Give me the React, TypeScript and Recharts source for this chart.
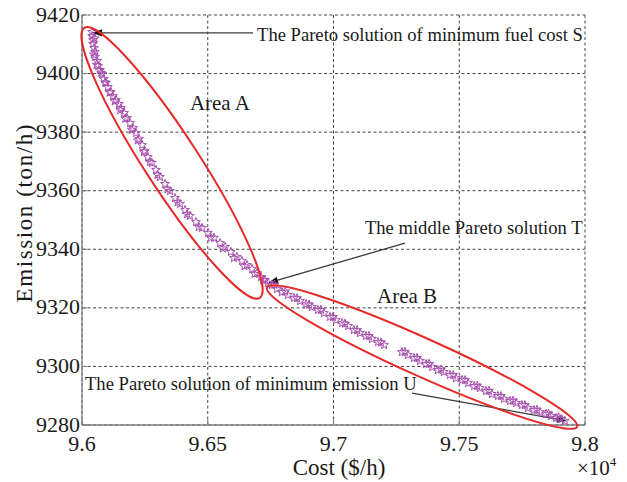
import React from 'react';
import {
  ScatterChart,
  Scatter,
  XAxis,
  YAxis,
  CartesianGrid,
  ReferenceLine,
  ReferenceDot,
} from 'recharts';

// Pareto front: cost ($/h) and emission (ton/h)
const costs = [
  96040, 96040, 96044, 96044, 96048, 96052, 96052, 96060, 96064, 96072,
  96080, 96087, 96095, 96103, 96115, 96123, 96135, 96147, 96155, 96167,
  96179, 96191, 96203, 96215, 96227, 96239, 96250, 96262, 96278, 96294,
  96310, 96330, 96350, 96370, 96390, 96410, 96429, 96453, 96477, 96501,
  96525, 96549, 96569, 96592, 96616, 96636, 96656, 96676, 96696, 96712,
  96728, 96740,
  96755, 96775, 96795, 96819, 96843, 96867, 96891, 96914, 96938, 96962,
  96986, 97010, 97034, 97058, 97081, 97105, 97129, 97153, 97177, 97201,
  97272, 97296, 97320, 97344, 97368, 97392, 97415, 97439, 97463, 97487,
  97511, 97535, 97559, 97582, 97606, 97630, 97654, 97678, 97702, 97726,
  97749, 97773, 97797, 97821, 97845, 97865, 97885, 97904, 97920,
];
const emissions = [
  9414.2, 9412.8, 9411.5, 9410.1, 9408.7, 9407.4, 9405.7, 9404.3, 9402.6, 9401.2,
  9399.9, 9398.1, 9396.8, 9395.4, 9393.7, 9392.3, 9391.0, 9389.6, 9388.2, 9386.5,
  9384.8, 9383.1, 9381.4, 9379.7, 9377.7, 9375.6, 9373.6, 9371.5, 9369.5, 9367.1,
  9364.7, 9362.3, 9359.9, 9357.5, 9355.5, 9353.4, 9351.4, 9349.3, 9347.3, 9345.6,
  9343.9, 9342.1, 9340.8, 9339.1, 9337.4, 9336.0, 9334.6, 9333.3, 9331.9, 9330.5,
  9329.5, 9328.5,
  9327.8, 9326.4, 9325.4, 9324.4, 9323.4, 9322.3, 9321.3, 9320.3, 9319.3, 9318.2,
  9316.9, 9315.8, 9314.8, 9313.8, 9312.4, 9311.4, 9310.4, 9309.4, 9308.3, 9307.3,
  9304.9, 9303.9, 9302.9, 9301.9, 9300.8, 9299.8, 9298.8, 9298.1, 9297.1, 9296.0,
  9295.4, 9294.3, 9293.3, 9292.6, 9291.6, 9290.6, 9289.9, 9288.9, 9288.2, 9287.5,
  9286.8, 9285.8, 9285.1, 9284.4, 9283.8, 9283.1, 9282.4, 9282.0, 9281.4,
];
// extra solutions that thicken the band
const costs2 = [
  96050, 96047, 96058, 96076, 96092, 96110, 96130, 96152, 96172, 96198,
  96222, 96246, 96270, 96300, 96340, 96380, 96418, 96465, 96512, 96560,
  96604, 96646, 96686, 96720,
  96765, 96808, 96855, 96903, 96950, 96998, 97046, 97094, 97141, 97189,
  97284, 97332, 97380, 97428, 97476, 97523, 97571, 97618, 97666, 97714,
  97761, 97809, 97855, 97895,
];
const emissions2 = [
  9412.0, 9406.5, 9403.0, 9400.3, 9397.0, 9393.5, 9390.5, 9387.5, 9384.6, 9380.8,
  9377.2, 9373.2, 9369.8, 9365.4, 9360.5, 9356.1, 9352.0, 9347.6, 9344.0, 9340.3,
  9337.0, 9334.2, 9331.6, 9329.4,
  9327.9, 9325.6, 9323.3, 9321.1, 9319.3, 9316.9, 9314.6, 9312.4, 9310.4, 9308.2,
  9305.0, 9302.9, 9300.9, 9299.0, 9297.1, 9295.3, 9293.4, 9291.7, 9289.9, 9288.3,
  9286.8, 9285.2, 9283.9, 9282.6,
];

const xTicks = [96000, 96500, 97000, 97500, 98000];
const yTicks = [9280, 9300, 9320, 9340, 9360, 9380, 9400, 9420];

// annotations, in data coordinates
const arrows = [
  { x1: 96680, y1: 9413.9, x2: 96040, y2: 9413.9 },
  { x1: 97284, y1: 9342.1, x2: 96740, y2: 9328.5 },
  { x1: 97312, y1: 9290.9, x2: 97928, y2: 9281.4 },
];
const notes = [
  { x: 96696, y: 9411.1, text: 'The Pareto solution of minimum fuel cost S', size: 18.6 },
  { x: 97125, y: 9345.2, text: 'The middle Pareto solution T', size: 18.6 },
  { x: 96012, y: 9291.9, text: 'The Pareto solution of minimum emission U', size: 18.6 },
  { x: 96429, y: 9387.6, text: 'Area A', size: 21 },
  { x: 97173, y: 9321.7, text: 'Area B', size: 21 },
];
const areas = [
  { x: 96358, y: 9369.5, rx: 161, ry: 27, angle: 57 },
  { x: 97352, y: 9303.2, rx: 170, ry: 19, angle: 24.2 },
];

const FONT = "'Liberation Serif', 'Times New Roman', Times, serif";
const AXIS = '#808080';

const data = [
  ...costs.map((c, i) => ({ cost: c, emission: emissions[i] })),
  ...costs2.map((c, i) => ({ cost: c, emission: emissions2[i] })),
];

const Star = (props: any) => {
  const { cx, cy } = props;
  if (cx == null || cy == null) return null;
  const pts: string[] = [];
  for (let k = 0; k < 10; k++) {
    const r = k % 2 === 0 ? 4.6 : 1.9;
    const a = -Math.PI / 2 + (k * Math.PI) / 5;
    pts.push(`${(cx + r * Math.cos(a)).toFixed(2)},${(cy + r * Math.sin(a)).toFixed(2)}`);
  }
  return <polygon points={pts.join(' ')} fill="none" stroke="#a850b0" strokeWidth={1} />;
};

const Arrow = (p: any) => {
  const { x1, y1, x2, y2 } = p;
  const ang = Math.atan2(y2 - y1, x2 - x1);
  const len = 10;
  const hw = 3.6;
  const bx = x2 - len * Math.cos(ang);
  const by = y2 - len * Math.sin(ang);
  const lx = bx + hw * Math.sin(ang);
  const ly = by - hw * Math.cos(ang);
  const rx = bx - hw * Math.sin(ang);
  const ry = by + hw * Math.cos(ang);
  return (
    <g>
      <line x1={x1} y1={y1} x2={bx} y2={by} stroke="#3a3a3a" strokeWidth={1.3} />
      <polygon points={`${x2},${y2} ${lx},${ly} ${rx},${ry}`} fill="#111" />
    </g>
  );
};

const YTick = (props: any) => {
  const { x, y, payload } = props;
  return (
    <g>
      <line x1={x} y1={y} x2={x + 5} y2={y} stroke={AXIS} strokeWidth={1.2} />
      <text x={x - 2} y={y + 6.5} textAnchor="end" style={{ fontFamily: FONT }} fontSize={22} fill="#1a1a1a">
        {payload.value}
      </text>
    </g>
  );
};

const XTick = (props: any) => {
  const { x, y, payload } = props;
  return (
    <g>
      <line x1={x} y1={y} x2={x} y2={y - 5} stroke={AXIS} strokeWidth={1.2} />
      <text x={x} y={y + 25.5} textAnchor="middle" style={{ fontFamily: FONT }} fontSize={22} fill="#1a1a1a">
        {String(payload.value / 10000)}
      </text>
    </g>
  );
};

export default function App() {
  return (
    <div style={{ position: 'absolute', left: 0, top: 0, width: 627, height: 482, background: '#fff', fontFamily: FONT }}>
      <ScatterChart width={627} height={482} margin={{ top: 15, right: 42, bottom: 0, left: 0 }}>
        <CartesianGrid stroke="#444" strokeDasharray="3 2.5" strokeWidth={1} />
        <XAxis
          type="number"
          dataKey="cost"
          domain={[96000, 98000]}
          ticks={xTicks}
          interval={0}
          height={57}
          tickSize={0}
          tickMargin={0}
          tickLine={false}
          axisLine={{ stroke: AXIS, strokeWidth: 1.3 }}
          tick={(p: any) => <XTick {...p} />}
        />
        <YAxis
          type="number"
          dataKey="emission"
          domain={[9280, 9420]}
          ticks={yTicks}
          interval={0}
          width={82}
          tickSize={0}
          tickMargin={0}
          tickLine={false}
          axisLine={{ stroke: AXIS, strokeWidth: 1.3 }}
          tick={(p: any) => <YTick {...p} />}
        />
        <Scatter data={data} shape={(p: any) => <Star {...p} />} isAnimationActive={false} />
        {areas.map((a, i) => (
          <ReferenceDot
            key={'e' + i}
            x={a.x}
            y={a.y}
            ifOverflow="visible"
            shape={(p: any) => (
              <ellipse
                cx={p.cx}
                cy={p.cy}
                rx={a.rx}
                ry={a.ry}
                transform={`rotate(${a.angle} ${p.cx} ${p.cy})`}
                fill="none"
                stroke="#e62a2a"
                strokeWidth={2}
              />
            )}
          />
        ))}
        {arrows.map((a, i) => (
          <ReferenceLine
            key={'a' + i}
            segment={[{ x: a.x1, y: a.y1 }, { x: a.x2, y: a.y2 }]}
            ifOverflow="visible"
            shape={(p: any) => <Arrow {...p} />}
          />
        ))}
        {notes.map((n, i) => (
          <ReferenceDot
            key={'n' + i}
            x={n.x}
            y={n.y}
            ifOverflow="visible"
            shape={(p: any) => (
              <text x={p.cx} y={p.cy} style={{ fontFamily: FONT }} fontSize={n.size} fill="#1a1a1a">
                {n.text}
              </text>
            )}
          />
        ))}
      </ScatterChart>
      <svg
        width={627}
        height={482}
        style={{ position: 'absolute', left: 0, top: 0, pointerEvents: 'none' }}
      >
        <text x={339} y={475} textAnchor="middle" style={{ fontFamily: FONT }} fontSize={23} fill="#1a1a1a">
          Cost ($/h)
        </text>
        <text
          x={32}
          y={213.5}
          textAnchor="middle"
          transform="rotate(-90 32 213.5)"
          style={{ fontFamily: FONT }}
          fontSize={23}
          fill="#1a1a1a"
          textLength={178}
          lengthAdjust="spacing"
        >
          Emission (ton/h)
        </text>
        <text x={577} y={475} style={{ fontFamily: FONT }} fontSize={21} fill="#1a1a1a">
          ×10
          <tspan fontSize={13} dy={-9}>
            4
          </tspan>
        </text>
      </svg>
    </div>
  );
}
